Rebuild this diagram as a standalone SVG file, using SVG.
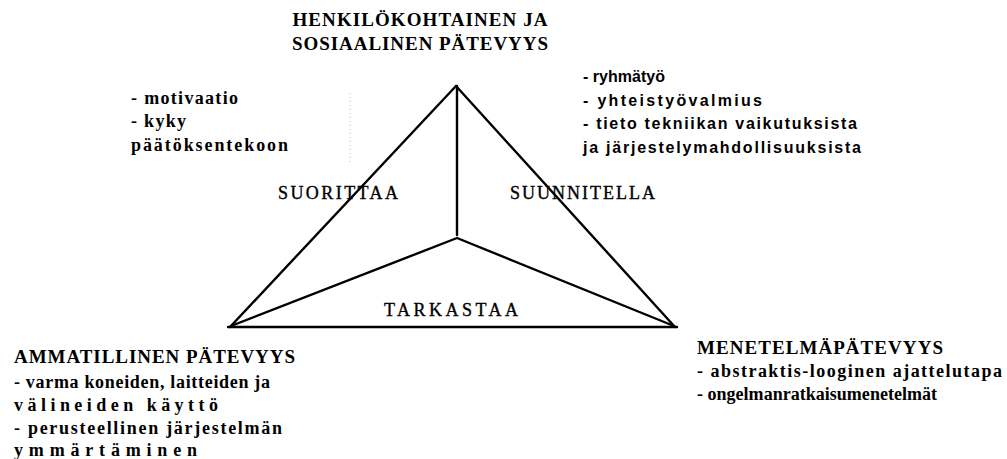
<svg xmlns="http://www.w3.org/2000/svg" width="1007" height="459" viewBox="0 0 1007 459">
  <style>
    .head { font-family: "Liberation Serif", "Times New Roman", serif; font-weight: bold; font-size: 19px; fill: #000; }
    .serif { font-family: "Liberation Serif", "Times New Roman", serif; font-weight: bold; font-size: 18px; fill: #000; }
    .sans { font-family: "Liberation Sans", Arial, sans-serif; font-weight: bold; font-size: 16px; fill: #000; }
    .side { font-family: "Liberation Serif", "Times New Roman", serif; font-size: 18px; fill: #000; stroke: #000; stroke-width: 0.35; }
    .edge { stroke: #000; stroke-width: 2.4; fill: none; stroke-linecap: round; stroke-linejoin: round; }
  </style>
  <rect width="1007" height="459" fill="#fff"/>

  <!-- triangle frame and inner spokes -->
  <g id="connectors">
    <line class="edge" x1="456" y1="86" x2="230" y2="327"/>
    <line class="edge" x1="456" y1="86" x2="675" y2="327"/>
    <line class="edge" x1="228" y1="327" x2="677" y2="327"/>
    <line class="edge" x1="457" y1="86" x2="457" y2="235"/>
    <polyline class="edge" points="231,326 457,238 674,326"/>
    <line x1="350" y1="93" x2="350" y2="162" stroke="#bbb" stroke-width="1" stroke-dasharray="1 3"/>
  </g>

  <!-- top corner: personal and social competence -->
  <g id="node-personal">
    <text class="head" x="420" y="26" text-anchor="middle" textLength="255" lengthAdjust="spacing">HENKILÖKOHTAINEN JA</text>
    <text class="head" x="420" y="50" text-anchor="middle" textLength="256" lengthAdjust="spacing">SOSIAALINEN PÄTEVYYS</text>
    <text class="serif" x="131" y="104" textLength="107" lengthAdjust="spacing">- motivaatio</text>
    <text class="serif" x="131" y="127" textLength="55" lengthAdjust="spacing">- kyky</text>
    <text class="serif" x="131" y="151" textLength="157" lengthAdjust="spacing">päätöksentekoon</text>
    <text class="sans" x="583" y="82" textLength="82" lengthAdjust="spacing">- ryhmätyö</text>
    <text class="sans" x="583" y="106" textLength="179" lengthAdjust="spacing">- yhteistyövalmius</text>
    <text class="sans" x="583" y="129" textLength="274" lengthAdjust="spacing">- tieto tekniikan vaikutuksista</text>
    <text class="sans" x="583" y="153" textLength="278" lengthAdjust="spacing">ja järjestelymahdollisuuksista</text>
  </g>

  <!-- side labels inside the triangle -->
  <g id="labels">
    <text class="side" x="278" y="199" textLength="120" lengthAdjust="spacing">SUORITTAA</text>
    <text class="side" x="510" y="199" textLength="145" lengthAdjust="spacing">SUUNNITELLA</text>
    <text class="side" x="384" y="316" textLength="134" lengthAdjust="spacing">TARKASTAA</text>
  </g>

  <!-- bottom left corner: vocational competence -->
  <g id="node-vocational">
    <text class="head" x="14" y="363" textLength="281" lengthAdjust="spacing">AMMATILLINEN PÄTEVYYS</text>
    <text class="serif" x="14" y="388" textLength="256" lengthAdjust="spacing">- varma koneiden, laitteiden ja</text>
    <text class="serif" x="14" y="411" textLength="204" lengthAdjust="spacing">välineiden käyttö</text>
    <text class="serif" x="14" y="434" textLength="268" lengthAdjust="spacing">- perusteellinen järjestelmän</text>
    <text class="serif" x="14" y="456" textLength="183" lengthAdjust="spacing">ymmärtäminen</text>
  </g>

  <!-- bottom right corner: methodological competence -->
  <g id="node-method">
    <text class="head" x="697" y="354" textLength="246" lengthAdjust="spacing">MENETELMÄPÄTEVYYS</text>
    <text class="serif" x="697" y="377" textLength="305" lengthAdjust="spacing">- abstraktis-looginen ajattelutapa</text>
    <text class="serif" x="697" y="400" textLength="240" lengthAdjust="spacing">- ongelmanratkaisumenetelmät</text>
  </g>
</svg>
